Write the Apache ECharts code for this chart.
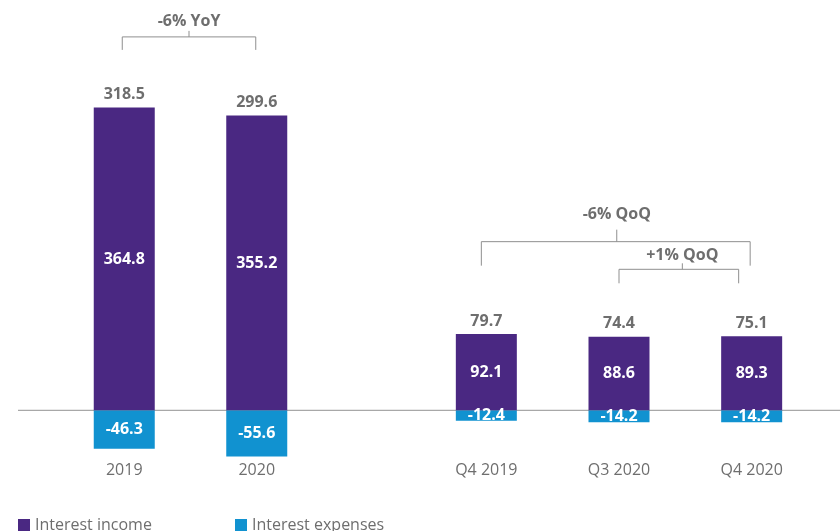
<!DOCTYPE html>
<html>
<head>
<meta charset="utf-8">
<script src="https://cdn.jsdelivr.net/npm/echarts@6/dist/echarts.min.js"></script>
<style>
  html, body { margin: 0; padding: 0; background: #fff; }
  #chart-container { width: 840px; height: 531px; }
</style>
</head>
<body>
<div id="chart-container"></div>
<script>
var dom = document.getElementById('chart-container');
var myChart = echarts.init(dom, null, { renderer: 'canvas' });

// annual block
var yearCats = ['2019', '2020'];
var yearIncome = [364.8, 355.2];
var yearExpenses = [-46.3, -55.6];
var yearNet = [318.5, 299.6];

// quarterly block
var quarterCats = ['Q4 2019', 'Q3 2020', 'Q4 2020'];
var quarterIncome = [92.1, 88.6, 89.3];
var quarterExpenses = [-12.4, -14.2, -14.2];
var quarterNet = [79.7, 74.4, 75.1];

// change annotations
var changeTexts = ['-6% YoY', '-6% QoQ', '+1% QoQ'];

var purple = '#4a2882';
var blue = '#1192d0';
var grey = '#6e6e6e';
var font = '"Open Sans", sans-serif';

function xAxisCfg(idx, cats) {
  return {
    type: 'category',
    gridIndex: idx,
    data: cats,
    axisLine: { show: false, onZero: false },
    axisTick: { show: false },
    axisLabel: { color: grey, fontSize: 16, fontFamily: font, margin: -48 }
  };
}
function yAxisCfg(idx) {
  return { type: 'value', gridIndex: idx, min: -120, max: 480, show: false, splitLine: { show: false } };
}
function blockSeries(idx, income, expenses, net) {
  return [
    {
      name: 'Interest income', type: 'bar', xAxisIndex: idx, yAxisIndex: idx,
      data: income, barWidth: 61, barGap: '-100%',
      itemStyle: { color: purple },
      label: { show: true, position: 'inside', color: '#fff', fontWeight: 'bold', fontSize: 16, fontFamily: font }
    },
    {
      name: 'Interest expenses', type: 'bar', xAxisIndex: idx, yAxisIndex: idx,
      data: expenses, barWidth: 61, barGap: '-100%',
      itemStyle: { color: blue },
      label: { show: true, position: 'inside', color: '#fff', fontWeight: 'bold', fontSize: 16, fontFamily: font }
    },
    {
      name: 'net', type: 'bar', xAxisIndex: idx, yAxisIndex: idx,
      data: income, barWidth: 61, barGap: '-100%', silent: true,
      itemStyle: { color: 'transparent' },
      label: {
        show: true, position: 'top', distance: 5, color: grey, fontWeight: 'bold', fontSize: 16, fontFamily: font,
        formatter: function (p) { return net[p.dataIndex].toFixed(1); }
      }
    }
  ];
}

var option = {
  animation: false,
  grid: [
    { left: 58, width: 265, top: 12, bottom: 21, outerBoundsMode: 'none', containLabel: false },
    { left: 420, width: 398, top: 12, bottom: 21, outerBoundsMode: 'none', containLabel: false }
  ],
  xAxis: [xAxisCfg(0, yearCats), xAxisCfg(1, quarterCats)],
  yAxis: [yAxisCfg(0), yAxisCfg(1)],
  legend: [
    {
      left: 18, top: 517, padding: 0, itemWidth: 12, itemHeight: 12, icon: 'rect',
      data: ['Interest income'],
      textStyle: { color: grey, fontSize: 16, fontFamily: font }
    },
    {
      left: 235, top: 517, padding: 0, itemWidth: 12, itemHeight: 12, icon: 'rect',
      data: ['Interest expenses'],
      textStyle: { color: grey, fontSize: 16, fontFamily: font }
    }
  ],
  series: blockSeries(0, yearIncome, yearExpenses, yearNet)
    .concat(blockSeries(1, quarterIncome, quarterExpenses, quarterNet))
};

myChart.setOption(option);

// zero line and change brackets, placed through the axes
function px(idx, cat, val) {
  return myChart.convertToPixel({ xAxisIndex: idx, yAxisIndex: idx }, [cat, val]);
}
var lineColor = '#8f8f8f';
var graphics = [];
var zeroY = px(0, yearCats[0], 0)[1];
graphics.push({
  type: 'line', z: 0, silent: true,
  shape: { x1: 18, y1: zeroY, x2: 840, y2: zeroY },
  style: { stroke: '#a8a8a8', lineWidth: 1.3 }
});

function bracket(text, idx, fromCat, toCat, level, dl, dr, leg, tick, tickX, textGap) {
  var a = px(idx, fromCat, level);
  var b = px(idx, toCat, level);
  var x1 = a[0] + dl, x2 = b[0] + dr, y = a[1];
  var mx = (x1 + x2) / 2 + tickX;
  graphics.push({
    type: 'polyline', silent: true,
    shape: { points: [[x1, y + leg], [x1, y], [x2, y], [x2, y + leg]] },
    style: { stroke: lineColor, lineWidth: 1, fill: null }
  });
  graphics.push({
    type: 'line', silent: true,
    shape: { x1: mx, y1: y, x2: mx, y2: y - tick },
    style: { stroke: lineColor, lineWidth: 1 }
  });
  graphics.push({
    type: 'text', silent: true, x: mx, y: y - textGap,
    style: {
      text: text, fill: grey, font: 'bold 16px ' + font,
      align: 'center', verticalAlign: 'middle'
    }
  });
}
bracket(changeTexts[0], 0, yearCats[0], yearCats[1], 450, -2, -1, 13, 6, 0, 15);
bracket(changeTexts[1], 1, quarterCats[0], quarterCats[2], 203.3, -5, -1.5, 24, 12, 1, 27);
bracket(changeTexts[2], 1, quarterCats[1], quarterCats[2], 170, 0, -13, 14, 6, 3.5, 14);

myChart.setOption({ graphic: graphics });

window.addEventListener('resize', myChart.resize);
</script>
</body>
</html>
